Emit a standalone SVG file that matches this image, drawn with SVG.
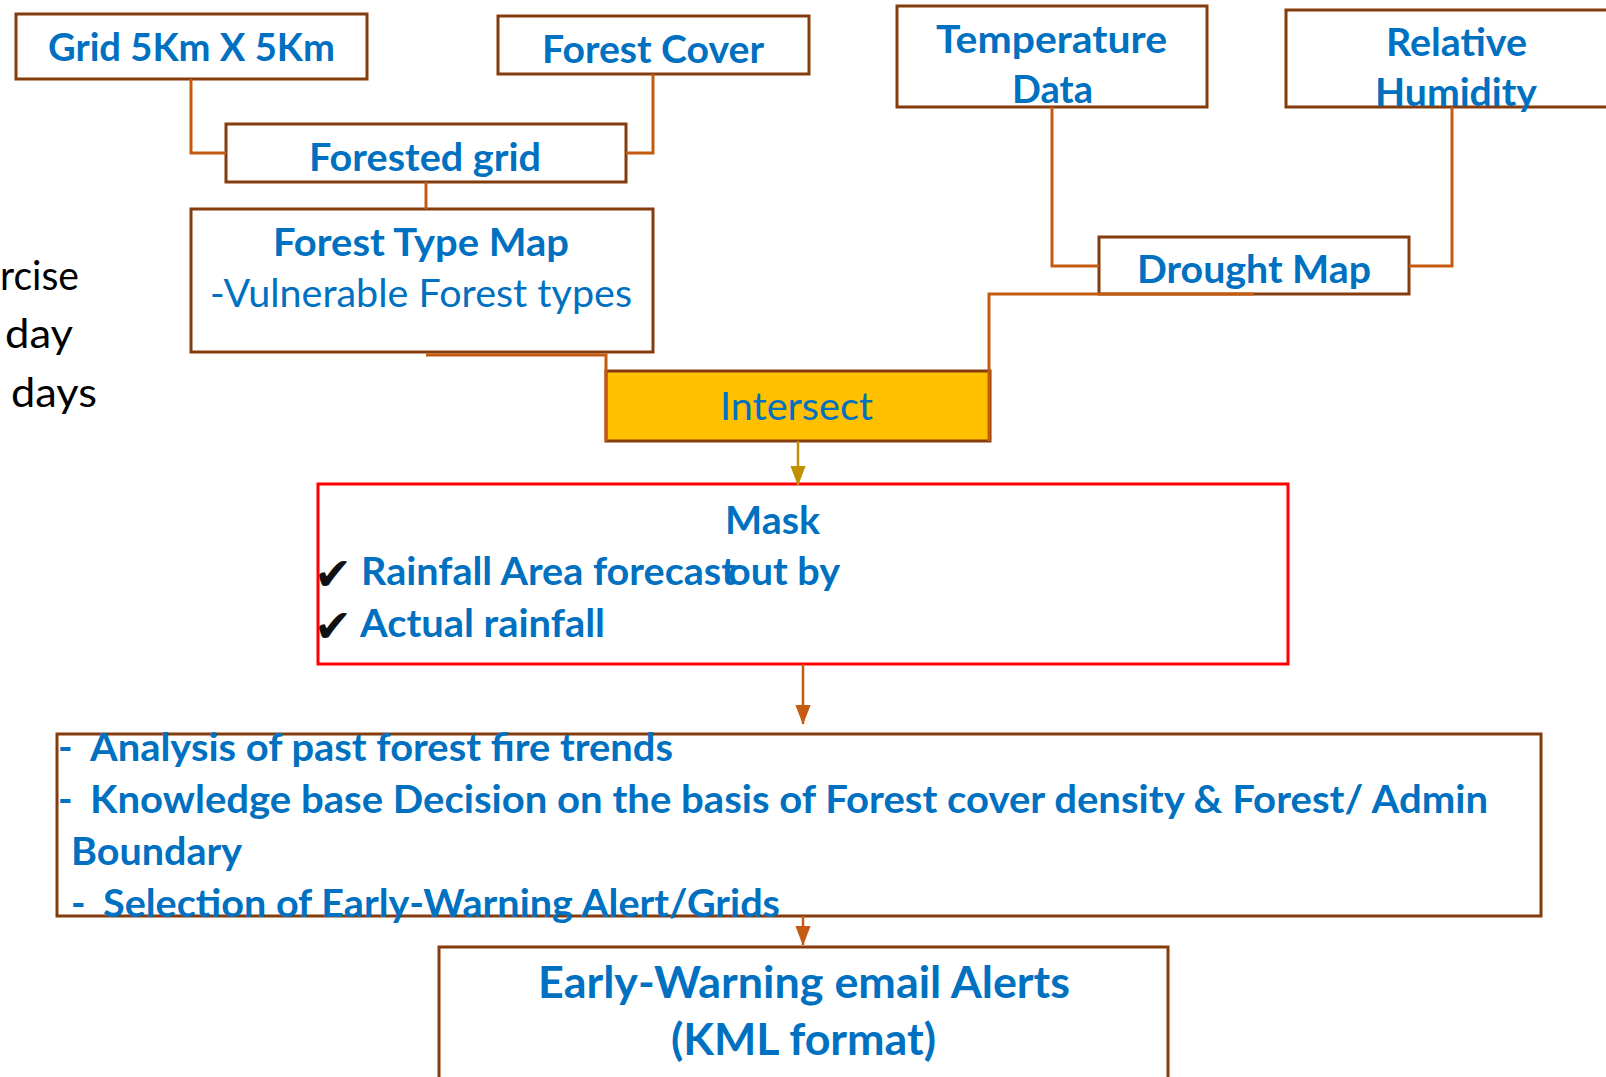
<svg xmlns="http://www.w3.org/2000/svg" width="1606" height="1077" viewBox="0 0 1606 1077">
  <style>
    .box { fill: #ffffff; stroke: #843C0C; stroke-width: 3; }
    .mask { fill: #ffffff; stroke: #FF0000; stroke-width: 3; }
    .op { fill: #FFC000; stroke: #843C0C; stroke-width: 3; }
    .t { font-family: Lato, "Liberation Sans", sans-serif; fill: #0070C0; font-size: 39px; }
    .b { font-weight: bold; }
    .big { font-size: 44px; }
    .side { font-family: Lato, "Liberation Sans", sans-serif; fill: #000000; font-size: 41px; }
    .tick { font-family: "DejaVu Sans", sans-serif; fill: #111111; font-size: 46px; font-weight: bold; }
    .link { fill: none; stroke: #C55A11; stroke-width: 3; }
    .arrow { fill: none; stroke: #C55A11; stroke-width: 2.5; }
    .arrow-gold { fill: none; stroke: #BF9000; stroke-width: 2.5; }
  </style>
  <defs>
    <marker id="head" markerUnits="userSpaceOnUse" markerWidth="20" markerHeight="26" refX="25" refY="10" viewBox="0 0 26 20" orient="auto">
      <path d="M0,0 L26,10 L0,20 Z" fill="#C55A11"/>
    </marker>
    <marker id="head-gold" markerUnits="userSpaceOnUse" markerWidth="20" markerHeight="26" refX="25" refY="10" viewBox="0 0 26 20" orient="auto">
      <path d="M0,0 L26,10 L0,20 Z" fill="#BF9000"/>
    </marker>
  </defs>

  <rect width="1606" height="1077" fill="#ffffff"/>

  <!-- partially visible side notes on the left edge -->
  <g id="side-notes">
    <text class="side" x="0" y="290" textLength="79" lengthAdjust="spacingAndGlyphs">rcise</text>
    <text class="side" x="5" y="348" textLength="68" lengthAdjust="spacingAndGlyphs">day</text>
    <text class="side" x="11" y="407" textLength="86" lengthAdjust="spacingAndGlyphs">days</text>
  </g>

  <g id="grid">
    <rect class="box" x="16" y="14" width="351" height="65"/>
    <text class="t b" x="48" y="61" textLength="287" lengthAdjust="spacingAndGlyphs">Grid 5Km X 5Km</text>
  </g>

  <g id="forest-cover">
    <rect class="box" x="498" y="16" width="311" height="58"/>
    <text class="t b" x="542" y="63" textLength="222" lengthAdjust="spacingAndGlyphs">Forest Cover</text>
  </g>

  <g id="forested-grid">
    <rect class="box" x="226" y="124" width="400" height="58"/>
    <text class="t b" x="309" y="171" textLength="232" lengthAdjust="spacingAndGlyphs">Forested grid</text>
  </g>

  <g id="forest-type-map">
    <rect class="box" x="191" y="209" width="462" height="143"/>
    <text class="t b" x="273" y="256" textLength="296" lengthAdjust="spacingAndGlyphs">Forest Type Map</text>
    <text class="t" x="210" y="307" textLength="422" lengthAdjust="spacingAndGlyphs">-Vulnerable Forest types</text>
  </g>

  <g id="temperature">
    <rect class="box" x="897" y="6" width="310" height="101"/>
    <text class="t b" x="936" y="53" textLength="231" lengthAdjust="spacingAndGlyphs">Temperature</text>
    <text class="t b" x="1012" y="103" textLength="81" lengthAdjust="spacingAndGlyphs">Data</text>
  </g>

  <g id="humidity">
    <rect class="box" x="1286" y="10" width="330" height="97"/>
    <text class="t b" x="1386" y="56" textLength="141" lengthAdjust="spacingAndGlyphs">Relative</text>
    <text class="t b" x="1375" y="106" textLength="162" lengthAdjust="spacingAndGlyphs">Humidity</text>
  </g>

  <g id="drought-map">
    <rect class="box" x="1099" y="237" width="310" height="57"/>
    <text class="t b" x="1137" y="283" textLength="234" lengthAdjust="spacingAndGlyphs">Drought Map</text>
  </g>

  <g id="intersect">
    <rect class="op" x="606" y="371" width="384" height="70"/>
    <text class="t" x="720" y="420" textLength="153" lengthAdjust="spacingAndGlyphs">Intersect</text>
  </g>

  <g id="mask">
    <rect class="mask" x="318" y="484" width="970" height="180"/>
    <text class="t b" x="725" y="534" textLength="95" lengthAdjust="spacingAndGlyphs">Mask</text>
    <text class="tick" x="314" y="590" textLength="38" lengthAdjust="spacingAndGlyphs">✔</text>
    <text class="t b" x="361" y="585" textLength="375" lengthAdjust="spacingAndGlyphs">Rainfall Area forecast</text>
    <text class="t b" x="728" y="585" textLength="112" lengthAdjust="spacingAndGlyphs">out by</text>
    <text class="tick" x="314" y="642" textLength="38" lengthAdjust="spacingAndGlyphs">✔</text>
    <text class="t b" x="360" y="637" textLength="245" lengthAdjust="spacingAndGlyphs">Actual rainfall</text>
  </g>

  <g id="analysis">
    <rect class="box" x="57" y="734" width="1484" height="182"/>
    <text class="t b" x="58" y="761">-</text>
    <text class="t b" x="90" y="761" textLength="583" lengthAdjust="spacingAndGlyphs">Analysis of past forest fire trends</text>
    <text class="t b" x="58" y="813">-</text>
    <text class="t b" x="90" y="813" textLength="1398" lengthAdjust="spacingAndGlyphs">Knowledge base Decision on the basis of Forest cover density  &amp; Forest/ Admin</text>
    <text class="t b" x="71" y="865" textLength="171" lengthAdjust="spacingAndGlyphs">Boundary</text>
    <text class="t b" x="71" y="917">-</text>
    <text class="t b" x="103" y="917" textLength="677" lengthAdjust="spacingAndGlyphs">Selection of Early-Warning Alert/Grids</text>
  </g>

  <g id="email-alerts">
    <rect class="box" x="439" y="947" width="729" height="140"/>
    <text class="t b big" x="538" y="998" textLength="532" lengthAdjust="spacingAndGlyphs">Early-Warning email Alerts</text>
    <text class="t b big" x="671" y="1055" textLength="265" lengthAdjust="spacingAndGlyphs">(KML format)</text>
  </g>

  <g id="connectors">
    <polyline class="link" points="191,79 191,153 226,153"/>
    <polyline class="link" points="653,74 653,153 626,153"/>
    <line class="link" x1="426" y1="182" x2="426" y2="209"/>
    <polyline class="link" points="426,355 606,355 606,441"/>
    <polyline class="link" points="1052,107 1052,266 1099,266"/>
    <polyline class="link" points="1452,107 1452,266 1409,266"/>
    <polyline class="link" points="1254,294 989,294 989,441"/>
    <line class="arrow-gold" x1="798" y1="441" x2="798" y2="485" marker-end="url(#head-gold)"/>
    <line class="arrow" x1="803" y1="664" x2="803" y2="724" marker-end="url(#head)"/>
    <line class="arrow" x1="803" y1="916" x2="803" y2="945" marker-end="url(#head)"/>
  </g>
</svg>
